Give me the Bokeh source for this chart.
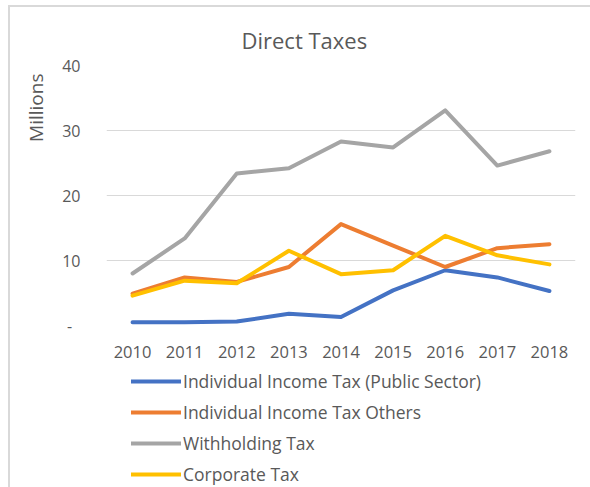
from bokeh.plotting import figure
from bokeh.models import Range1d, FixedTicker, Legend, LegendItem, Title
from bokeh.layouts import column
from bokeh.embed import file_html
from bokeh.resources import INLINE

years = ["2010", "2011", "2012", "2013", "2014", "2015", "2016", "2017", "2018"]
public_sector = [0.5, 0.5, 0.6, 1.8, 1.3, 5.4, 8.5, 7.4, 5.3]
income_others = [4.9, 7.4, 6.7, 9.0, 15.6, 12.3, 9.0, 11.9, 12.5]
withholding = [8.0, 13.4, 23.4, 24.2, 28.3, 27.4, 33.1, 24.6, 26.8]
corporate = [4.6, 6.9, 6.5, 11.5, 7.9, 8.5, 13.8, 10.8, 9.4]
series_names = ["Individual Income Tax (Public Sector)", "Individual Income Tax Others",
                "Withholding Tax", "Corporate Tax"]
series_colors = ["#4472C4", "#ED7D31", "#A5A5A5", "#FFC000"]
y_ticks = [0, 10, 20, 30, 40]
y_tick_labels = {0: "-\u00a0\u00a0", 10: "10", 20: "20", 30: "30", 40: "40"}

FONT = "Open Sans"
TXT = "#595959"
all_series = [public_sector, income_others, withholding, corporate]

# ---- main chart ----
p = figure(x_range=years, y_range=Range1d(0, 40), width=580, height=355,
           output_backend="svg", toolbar_location=None,
           min_border_left=87, min_border_right=15, min_border_top=58, min_border_bottom=37)
p.outline_line_color = None

p.add_layout(Title(text="Direct Taxes", text_font=FONT, text_font_size="22px",
                   text_font_style="normal", text_color=TXT, align="left", offset=135,
                   standoff=22), "above")

for vals, color in zip(all_series, series_colors):
    p.line(years, vals, line_color=color, line_width=4, line_join="round", line_cap="round")

p.xgrid.grid_line_color = None
p.ygrid.grid_line_color = "#D9D9D9"
p.ygrid.grid_line_width = 1

p.yaxis.ticker = FixedTicker(ticks=y_ticks)
p.yaxis.major_label_overrides = y_tick_labels
p.yaxis.axis_line_color = None
p.yaxis.major_tick_line_color = None
p.yaxis.minor_tick_line_color = None
p.yaxis.major_label_text_font = FONT
p.yaxis.major_label_text_font_size = "16px"
p.yaxis.major_label_text_color = TXT
p.yaxis.major_label_standoff = 20

p.add_layout(Title(text="Millions", text_font=FONT, text_font_size="19px",
                   text_font_style="normal", text_color=TXT, align="right", offset=8,
                   standoff=21), "left")

p.xaxis.axis_line_color = None
p.xaxis.major_tick_line_color = None
p.xaxis.minor_tick_line_color = None
p.xaxis.major_label_text_font = FONT
p.xaxis.major_label_text_font_size = "16.5px"
p.xaxis.major_label_text_color = TXT
p.xaxis.major_label_standoff = 14

# ---- legend panel ----
q = figure(x_range=years, y_range=Range1d(1000, 1001), width=580, height=125,
           output_backend="svg", toolbar_location=None,
           min_border_left=0, min_border_right=0, min_border_top=0, min_border_bottom=0)
q.axis.visible = False
q.grid.grid_line_color = None
q.outline_line_color = None
rs = []
for vals, color in zip(all_series, series_colors):
    rs.append(q.line(years, vals, line_color=color, line_width=4, line_cap="round"))

legend = Legend(items=[LegendItem(label=n, renderers=[r]) for n, r in zip(series_names, rs)],
                location=(25, 1), orientation="vertical",
                glyph_width=50, glyph_height=24, label_height=24, spacing=7,
                label_standoff=2, padding=0, margin=0,
                border_line_color=None, background_fill_alpha=0,
                label_text_font=FONT, label_text_font_size="17.5px", label_text_color=TXT)
q.add_layout(legend, "center")

layout = column(p, q, spacing=0,
                styles={"margin-left": "8px", "margin-top": "5px",
                        "border-left": "2px solid #d9d9d9", "border-top": "2px solid #d9d9d9"})

open("out.html", "w").write(file_html(layout, INLINE))
